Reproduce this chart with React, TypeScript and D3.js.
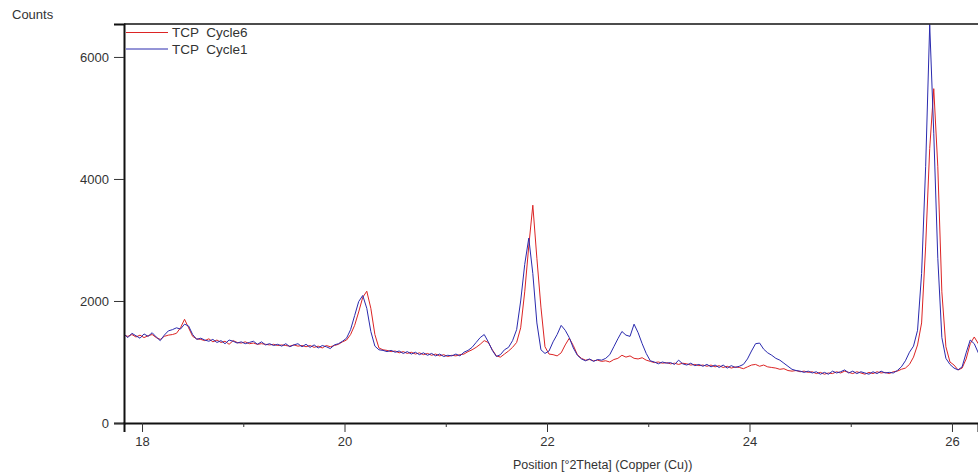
import React, { useEffect, useRef } from "react";
import * as d3 from "d3";

const WIDTH = 978;
const HEIGHT = 475;

// scan grid: start 17.82 °2θ, step 0.04 °2θ
const SCAN_START = 17.82;
const SCAN_STEP = 0.04;

const cycle6: number[] = [
  1440, 1420, 1450, 1410, 1440, 1400, 1430, 1450, 1400, 1370,
  1420, 1440, 1450, 1470, 1560, 1700, 1560, 1420, 1380, 1370,
  1350, 1380, 1330, 1360, 1320, 1340, 1290, 1350, 1320, 1310,
  1330, 1300, 1310, 1290, 1300, 1290, 1280, 1290, 1270, 1280,
  1270, 1260, 1280, 1260, 1270, 1250, 1270, 1240, 1260, 1230,
  1270, 1250, 1270, 1290, 1330, 1360, 1450, 1600, 1820, 2060,
  2160, 1880, 1450, 1230, 1200, 1190, 1170, 1180, 1150, 1170,
  1140, 1160, 1130, 1150, 1120, 1140, 1110, 1130, 1100, 1120,
  1090, 1110, 1100, 1120, 1130, 1170, 1200, 1240, 1290, 1350,
  1320, 1200, 1100, 1080, 1130, 1180, 1240, 1320, 1560, 2150,
  2900, 3570, 2700, 1900, 1250, 1130, 1120, 1100, 1150, 1280,
  1390, 1270, 1120, 1060, 1030, 1040, 1020, 1030, 1010, 1020,
  1000, 1040, 1060, 1110, 1080, 1100, 1060, 1050, 1070, 1030,
  1010, 990, 1000, 980, 990, 970, 980, 960, 980, 970,
  950, 960, 940, 950, 930, 950, 920, 940, 910, 930,
  900, 920, 910, 890, 920, 950, 960, 930, 950, 920,
  910, 900, 880, 890, 860, 850, 860, 840, 850, 830,
  840, 810, 830, 800, 820, 810, 840, 820, 850, 830,
  810, 840, 820, 800, 830, 810, 840, 820, 830, 810,
  840, 850, 880, 900, 960, 1080, 1280, 1640, 2900, 4500,
  5480, 4200, 2150, 1250, 1000, 950, 870, 900, 1050, 1300,
  1410, 1300, 1150,
];

const cycle1: number[] = [
  1460, 1400, 1470, 1430, 1390, 1460, 1420, 1480, 1410, 1350,
  1440, 1510, 1530, 1560, 1540, 1620, 1590, 1450, 1370, 1390,
  1360, 1340, 1370, 1320, 1350, 1300, 1360, 1340, 1310, 1330,
  1300, 1320, 1340, 1290, 1330, 1280, 1300, 1270, 1290, 1260,
  1300, 1250, 1280, 1300, 1250, 1290, 1240, 1280, 1230, 1270,
  1250, 1220, 1280, 1300, 1340, 1390, 1530, 1760, 1990, 2090,
  1880, 1500, 1260, 1200, 1190, 1170, 1190, 1160, 1180, 1140,
  1170, 1130, 1160, 1120, 1150, 1110, 1140, 1100, 1130, 1090,
  1110, 1100, 1130, 1100, 1160, 1190, 1240, 1320, 1400, 1450,
  1330, 1190, 1090, 1120, 1200, 1240, 1350, 1530, 2000, 2600,
  3030, 2450, 1640, 1200, 1140, 1180, 1330, 1450, 1600, 1520,
  1400, 1230, 1110, 1050, 1020, 1050, 1010, 1040, 1030, 1060,
  1120, 1250, 1380, 1500, 1440, 1420, 1620, 1480, 1300, 1140,
  1020, 1000, 970, 1000, 980, 990, 960, 1030, 970, 950,
  980, 940, 960, 930, 960, 920, 950, 910, 950, 900,
  940, 910, 930, 960, 1050, 1180, 1300, 1310, 1210, 1150,
  1110, 1060, 1030, 980, 930, 880, 860, 850, 830, 850,
  820, 840, 800, 830, 800, 850, 820, 840, 870, 820,
  850, 810, 840, 820, 800, 840, 810, 850, 820, 830,
  820, 860, 920, 1020, 1160, 1260, 1520, 2450, 4200, 6530,
  4750, 2700, 1400, 1060, 960, 900, 870, 920, 1150, 1360,
  1300, 1150, 1000,
];

const yTicks = [0, 2000, 4000, 6000];
const xMajorTicks = [18, 20, 22, 24, 26];
const xMinorTicks = [19, 21, 23, 25];

const seriesNames = ["TCP  Cycle6", "TCP  Cycle1"];
const seriesColors = ["#dc2424", "#2a2aae"];

const X_DOMAIN: [number, number] = [17.822, 26.257];
const Y_DOMAIN: [number, number] = [0, 6540];

const FONT = "'Liberation Sans', Arial, Helvetica, sans-serif";

export default function App() {
  const ref = useRef<SVGSVGElement | null>(null);

  useEffect(() => {
    const svg = d3.select(ref.current);
    svg.selectAll("*").remove();

    const left = 124;
    const right = 978;
    const top = 24;
    const bottom = 423;

    const x = d3.scaleLinear().domain(X_DOMAIN).range([left, right]);
    const y = d3.scaleLinear().domain(Y_DOMAIN).range([bottom, top]);

    svg
      .append("rect")
      .attr("width", WIDTH)
      .attr("height", HEIGHT)
      .attr("fill", "#ffffff");

    svg
      .append("defs")
      .append("clipPath")
      .attr("id", "plotclip")
      .append("rect")
      .attr("x", left)
      .attr("y", top)
      .attr("width", right - left)
      .attr("height", bottom - top);

    const toPoints = (vals: number[]) =>
      vals.map((v, i) => [SCAN_START + i * SCAN_STEP, v] as [number, number]);

    const line = d3
      .line<[number, number]>()
      .x((d) => x(d[0]))
      .y((d) => y(d[1]));

    const plot = svg.append("g").attr("clip-path", "url(#plotclip)");
    [cycle6, cycle1].forEach((vals, i) => {
      plot
        .append("path")
        .attr("d", line(toPoints(vals)) as string)
        .attr("fill", "none")
        .attr("stroke", seriesColors[i])
        .attr("stroke-width", 1)
        .attr("stroke-linejoin", "round");
    });

    // frame: top border, left axis, bottom axis
    svg
      .append("line")
      .attr("x1", left)
      .attr("x2", right)
      .attr("y1", top)
      .attr("y2", top)
      .attr("stroke", "#111")
      .attr("stroke-width", 1.5);

    const yAxis = d3
      .axisLeft(y)
      .tickValues(yTicks)
      .tickSize(10)
      .tickPadding(5)
      .tickFormat(d3.format("d") as any);
    const yg = svg.append("g").attr("transform", `translate(${left},0)`).call(yAxis);
    yg.select(".domain").attr("stroke", "#111").attr("stroke-width", 2);
    yg.selectAll(".tick line").attr("stroke", "#333");
    yg.selectAll(".tick text")
      .attr("font-family", FONT)
      .attr("font-size", 13)
      .attr("fill", "#333");

    const xAxis = d3
      .axisBottom(x)
      .tickValues(xMajorTicks)
      .tickSize(9)
      .tickPadding(5)
      .tickFormat(d3.format("d") as any);
    const xg = svg.append("g").attr("transform", `translate(0,${bottom})`).call(xAxis);
    xg.select(".domain").attr("stroke", "#111").attr("stroke-width", 2);
    xg.selectAll(".tick line").attr("stroke", "#333");
    xg.selectAll(".tick text")
      .attr("font-family", FONT)
      .attr("font-size", 13)
      .attr("fill", "#333");

    const xMinor = d3.axisBottom(x).tickValues(xMinorTicks).tickSize(4).tickFormat(() => "");
    const xmg = svg.append("g").attr("transform", `translate(0,${bottom})`).call(xMinor);
    xmg.select(".domain").remove();
    xmg.selectAll(".tick line").attr("stroke", "#333");

    svg
      .append("text")
      .attr("x", 12)
      .attr("y", 19)
      .attr("font-family", FONT)
      .attr("font-size", 13)
      .attr("fill", "#333")
      .text("Counts");

    svg
      .append("text")
      .attr("x", 513)
      .attr("y", 469)
      .attr("font-family", FONT)
      .attr("font-size", 12.5)
      .attr("fill", "#333")
      .text("Position [°2Theta] (Copper (Cu))");

    // legend
    seriesNames.forEach((name, i) => {
      const ly = 32.5 + i * 16.5;
      svg
        .append("line")
        .attr("x1", 126)
        .attr("x2", 168)
        .attr("y1", ly)
        .attr("y2", ly)
        .attr("stroke", seriesColors[i])
        .attr("stroke-width", 1);
      svg
        .append("text")
        .attr("x", 172)
        .attr("y", ly + 4.5)
        .attr("font-family", FONT)
        .attr("font-size", 13.5)
        .attr("fill", "#333")
        .style("white-space", "pre")
        .text(name);
    });
  }, []);

  return (
    <svg
      ref={ref}
      width={WIDTH}
      height={HEIGHT}
      style={{ position: "absolute", left: 0, top: 0, display: "block" }}
    />
  );
}
